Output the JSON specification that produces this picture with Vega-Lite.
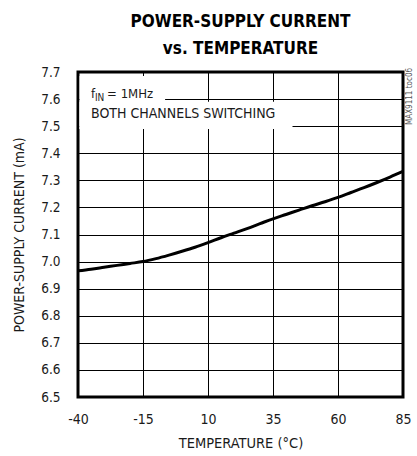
{
  "$schema": "https://vega.github.io/schema/vega-lite/v6.json",
  "width": 325,
  "height": 325,
  "autosize": {"type": "none"},
  "padding": {"left": 78, "top": 72, "right": 14, "bottom": 59},
  "background": "white",
  "config": {
    "view": {"stroke": "black", "strokeWidth": 3},
    "font": "DejaVu Sans Condensed, Liberation Sans, sans-serif"
  },
  "title": {
    "text": ["POWER-SUPPLY CURRENT", "vs. TEMPERATURE"],
    "font": "DejaVu Sans Condensed, Liberation Sans, sans-serif",
    "fontSize": 17,
    "fontWeight": "bold",
    "color": "black",
    "anchor": "middle",
    "lineHeight": 27,
    "offset": -10,
    "baseline": "bottom"
  },
  "data": {
    "values": [
      {"temp": -40, "current": 6.966},
      {"temp": -35, "current": 6.972},
      {"temp": -30, "current": 6.979},
      {"temp": -25, "current": 6.986},
      {"temp": -20, "current": 6.993},
      {"temp": -15, "current": 7.0},
      {"temp": -10, "current": 7.011},
      {"temp": -5, "current": 7.024},
      {"temp": 0, "current": 7.038},
      {"temp": 5, "current": 7.053},
      {"temp": 10, "current": 7.07},
      {"temp": 15, "current": 7.088},
      {"temp": 20, "current": 7.105},
      {"temp": 25, "current": 7.122},
      {"temp": 30, "current": 7.14},
      {"temp": 35, "current": 7.158},
      {"temp": 40, "current": 7.174},
      {"temp": 45, "current": 7.19},
      {"temp": 50, "current": 7.206},
      {"temp": 55, "current": 7.221},
      {"temp": 60, "current": 7.237},
      {"temp": 65, "current": 7.255},
      {"temp": 70, "current": 7.273},
      {"temp": 75, "current": 7.292},
      {"temp": 80, "current": 7.312},
      {"temp": 85, "current": 7.333}
    ]
  },
  "layer": [
    {
      "mark": {"type": "line", "color": "black", "strokeWidth": 3, "interpolate": "monotone"},
      "encoding": {
        "x": {
          "field": "temp",
          "type": "quantitative",
          "scale": {"domain": [-40, 85], "nice": false, "zero": false},
          "axis": {
            "values": [-40, -15, 10, 35, 60, 85],
            "tickCount": 20,
            "labelExpr": "datum.value < 0 ? '-' + abs(datum.value) : datum.label",
            "title": "TEMPERATURE (°C)",
            "grid": true,
            "gridColor": "black",
            "gridWidth": 1,
            "gridOpacity": 1,
            "ticks": false,
            "domain": false,
            "labelFont": "DejaVu Sans Condensed, Liberation Sans, sans-serif",
            "labelFontSize": 14,
            "labelPadding": 15,
            "labelColor": "#1a1a1a",
            "labelFlush": false,
            "labelBound": false,
            "labelOverlap": false,
            "titleFont": "DejaVu Sans Condensed, Liberation Sans, sans-serif",
            "titleFontSize": 14.5,
            "titleFontWeight": "normal",
            "titleColor": "#1a1a1a",
            "titleY": 39
          }
        },
        "y": {
          "field": "current",
          "type": "quantitative",
          "scale": {"domain": [6.5, 7.7], "nice": false, "zero": false},
          "axis": {
            "values": [6.5, 6.6, 6.7, 6.8, 6.9, 7.0, 7.1, 7.2, 7.3, 7.4, 7.5, 7.6, 7.7],
            "tickCount": 20,
            "format": ".1f",
            "title": "POWER-SUPPLY CURRENT (mA)",
            "grid": true,
            "gridColor": "black",
            "gridWidth": 1,
            "gridOpacity": 1,
            "ticks": false,
            "domain": false,
            "labelFont": "DejaVu Sans Condensed, Liberation Sans, sans-serif",
            "labelFontSize": 13.5,
            "labelPadding": 18,
            "labelColor": "#1a1a1a",
            "labelFlush": false,
            "labelBound": false,
            "labelOverlap": false,
            "titleFont": "DejaVu Sans Condensed, Liberation Sans, sans-serif",
            "titleFontSize": 14,
            "titleFontWeight": "normal",
            "titleColor": "#1a1a1a",
            "titleX": -59,
            "titleY": 162.5,
            "titleBaseline": "middle"
          }
        }
      }
    },
    {
      "data": {"values": [{}]},
      "mark": {"type": "rect", "color": "white"},
      "encoding": {
        "x": {"datum": -39.4, "type": "quantitative"},
        "x2": {"datum": -6.5},
        "y": {"datum": 7.49, "type": "quantitative"},
        "y2": {"datum": 7.685}
      }
    },
    {
      "data": {"values": [{}]},
      "mark": {"type": "rect", "color": "white"},
      "encoding": {
        "x": {"datum": -39.4, "type": "quantitative"},
        "x2": {"datum": 42.5},
        "y": {"datum": 7.49, "type": "quantitative"},
        "y2": {"datum": 7.59}
      }
    },
    {
      "data": {"values": [{}]},
      "mark": {"type": "text", "text": "f", "fontSize": 13, "align": "left", "baseline": "alphabetic", "color": "#1a1a1a"},
      "encoding": {
        "x": {"datum": -35, "type": "quantitative"},
        "y": {"datum": 7.603, "type": "quantitative"}
      }
    },
    {
      "data": {"values": [{}]},
      "mark": {"type": "text", "text": "IN", "fontSize": 10, "align": "left", "baseline": "alphabetic", "color": "#1a1a1a"},
      "encoding": {
        "x": {"datum": -33.5, "type": "quantitative"},
        "y": {"datum": 7.594, "type": "quantitative"}
      }
    },
    {
      "data": {"values": [{}]},
      "mark": {"type": "text", "text": "= 1MHz", "fontSize": 13, "align": "left", "baseline": "alphabetic", "color": "#1a1a1a"},
      "encoding": {
        "x": {"datum": -28.8, "type": "quantitative"},
        "y": {"datum": 7.603, "type": "quantitative"}
      }
    },
    {
      "data": {"values": [{}]},
      "mark": {"type": "text", "text": "BOTH CHANNELS SWITCHING", "fontSize": 14, "align": "left", "baseline": "alphabetic", "color": "#1a1a1a"},
      "encoding": {
        "x": {"datum": -35, "type": "quantitative"},
        "y": {"datum": 7.529, "type": "quantitative"}
      }
    },
    {
      "data": {"values": [{}]},
      "mark": {"type": "text", "text": "MAX9111 toc06", "fontSize": 8, "angle": 270, "align": "right", "baseline": "middle", "color": "#555555"},
      "encoding": {
        "x": {"datum": 87.8, "type": "quantitative"},
        "y": {"datum": 7.715, "type": "quantitative"}
      }
    }
  ]
}
